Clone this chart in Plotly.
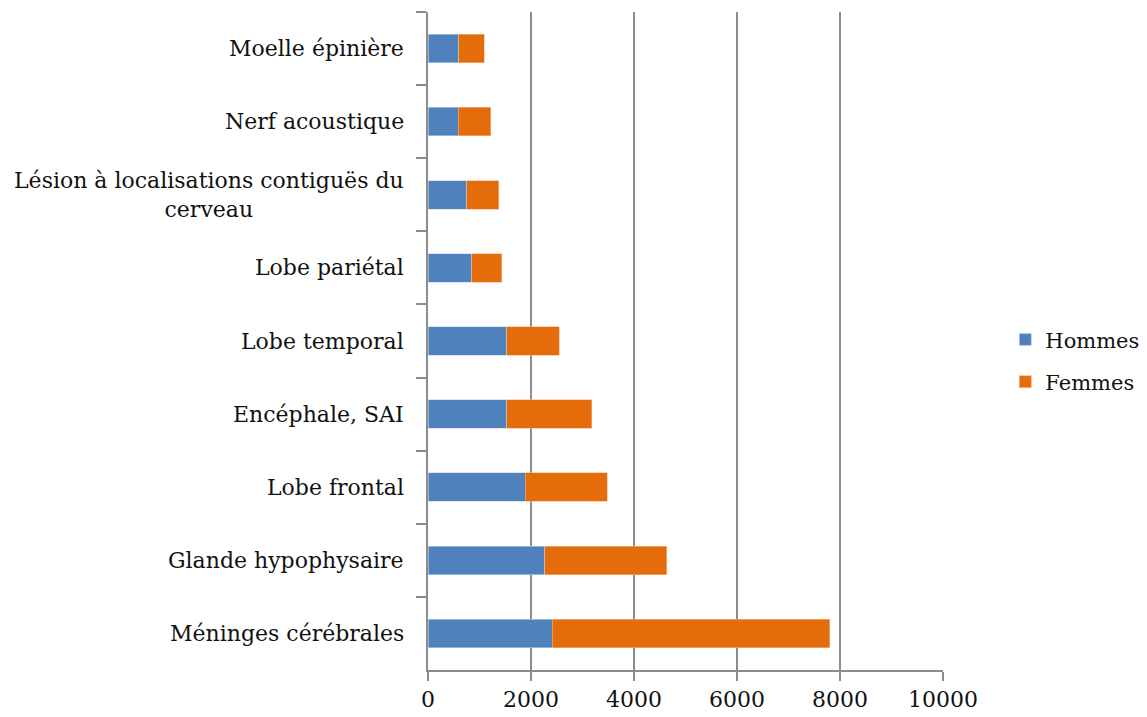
import plotly.graph_objects as go

categories = [
    "Moelle épinière",
    "Nerf acoustique",
    "Lésion à localisations contiguës du<br>cerveau",
    "Lobe pariétal",
    "Lobe temporal",
    "Encéphale, SAI",
    "Lobe frontal",
    "Glande hypophysaire",
    "Méninges cérébrales",
]
hommes = [600, 585, 755, 845, 1530, 1530, 1885, 2265, 2410]
femmes = [495, 635, 615, 590, 1015, 1650, 1595, 2375, 5395]
x_ticks = [0, 2000, 4000, 6000, 8000, 10000]
x_tick_labels = ["0", "2000", "4000", "6000", "8000", "10000"]

FONT = "DejaVu Serif"
GRID = "#8c8c8c"
TXT = "#111111"

fig = go.Figure()
fig.add_trace(go.Bar(y=categories, x=hommes, orientation="h", name="Hommes",
                     marker=dict(color="#4F81BD", line=dict(color="#c9d6ea", width=0.6)),
                     legendgroup="h"))
fig.add_trace(go.Bar(y=categories, x=femmes, orientation="h", name="Femmes",
                     marker=dict(color="#E46C0A", line=dict(color="#f3b98c", width=0.6)),
                     legendgroup="f"))

for c in categories:
    fig.add_annotation(x=0, y=c, xref="x", yref="y", text=c, showarrow=False,
                       xanchor="right", yanchor="middle", align="center", xshift=-22,
                       font=dict(family=FONT, size=22, color=TXT))

fig.update_layout(
    width=1139, height=709,
    barmode="stack", bargap=0.61,
    plot_bgcolor="white", paper_bgcolor="white",
    margin=dict(l=420, r=204, t=4, b=47, autoexpand=False),
    font=dict(family=FONT, size=22, color=TXT),
    legend=dict(x=1.121, y=0.47, yanchor="middle", xanchor="left",
                traceorder="grouped", tracegroupgap=12, itemwidth=30,
                font=dict(family=FONT, size=21, color=TXT)),
    xaxis=dict(range=[0, 10000], tickvals=x_ticks, ticktext=x_tick_labels,
               showgrid=True, gridcolor=GRID, gridwidth=2, automargin=False,
               showline=True, linecolor=GRID, linewidth=2, ticks="outside", ticklen=9,
               tickcolor=GRID, tickwidth=2, zeroline=False, fixedrange=True,
               tickfont=dict(family=FONT, size=22, color=TXT)),
    yaxis=dict(categoryorder="array", categoryarray=categories, autorange="reversed",
               showticklabels=False, showgrid=False, showline=True, linecolor=GRID, linewidth=2,
               automargin=False,
               ticks="outside", tickson="boundaries", ticklen=10, tickcolor=GRID, tickwidth=2),
)

fig.write_html("out.html")
